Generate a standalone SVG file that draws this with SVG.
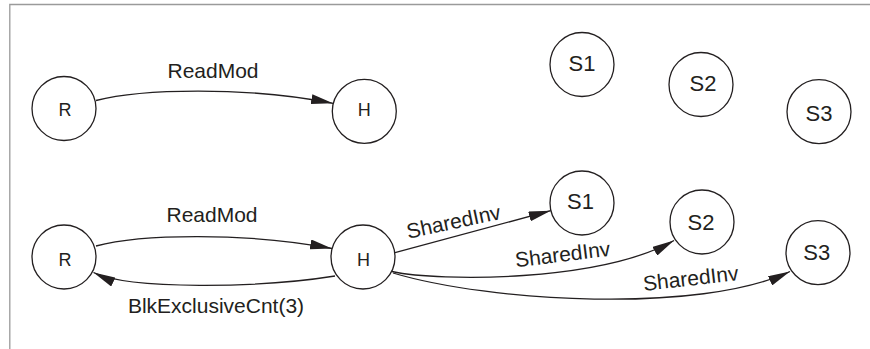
<svg xmlns="http://www.w3.org/2000/svg" width="870" height="349" viewBox="0 0 870 349">
  <defs>
    <style>
      .frame { fill: none; stroke: #9a9a9a; stroke-width: 1.3; }
      .node circle { fill: #ffffff; stroke: #231f20; stroke-width: 1.3; }
      .node text { font-family: "Liberation Sans", Arial, sans-serif; fill: #231f20; text-anchor: middle; }
      .node .small { font-size: 18px; }
      .node .big { font-size: 22px; }
      .edge { fill: none; stroke: #231f20; stroke-width: 1.3; marker-end: url(#arrow); }
      .elabel { font-family: "Liberation Sans", Arial, sans-serif; font-size: 21px; fill: #231f20; text-anchor: middle; }
    </style>
    <marker id="arrow" markerUnits="userSpaceOnUse" markerWidth="22" markerHeight="10" refX="22" refY="5" orient="auto">
      <path d="M0,0 L22,5 L0,10 Z" fill="#231f20"/>
    </marker>
  </defs>

  <rect width="870" height="349" fill="#ffffff"/>
  <!-- open frame: top and left rules -->
  <path class="frame" d="M870,4.5 H9.8 V349"/>

  <!-- connectors and their labels -->
  <g id="connectors">
    <path class="edge" d="M96,100.5 C140,89 245,86 333,103.3"/>
    <text class="elabel" x="213" y="78">ReadMod</text>

    <path class="edge" d="M96,246 C140,234 245,232 332,248.5"/>
    <text class="elabel" x="212" y="222">ReadMod</text>

    <path class="edge" d="M335,276 C260,288 130,290 93.5,272.5"/>
    <text class="elabel" x="216" y="313">BlkExclusiveCnt(3)</text>

    <path class="edge" d="M395,252.7 L550.7,210.7"/>
    <text class="elabel" transform="translate(455,228.7) rotate(-12)">SharedInv</text>

    <path class="edge" d="M392,271.5 C440,282 600,282 674,240.5"/>
    <text class="elabel" transform="translate(563.5,261.5) rotate(-7)">SharedInv</text>

    <path class="edge" d="M393,273 C490,302 700,314 790,271.5"/>
    <text class="elabel" transform="translate(691.5,285.5) rotate(-6.5)">SharedInv</text>
  </g>

  <!-- upper row -->
  <g id="R-top" class="node">
    <circle cx="64" cy="108.5" r="32"/>
    <text class="small" x="65" y="116">R</text>
  </g>
  <g id="H-top" class="node">
    <circle cx="364.3" cy="111.3" r="32"/>
    <text class="small" x="364.3" y="115.7">H</text>
  </g>
  <g id="S1-top" class="node">
    <circle cx="582" cy="64.5" r="32"/>
    <text class="big" x="582" y="71.4">S1</text>
  </g>
  <g id="S2-top" class="node">
    <circle cx="701" cy="84.5" r="32"/>
    <text class="big" x="703" y="91.2">S2</text>
  </g>
  <g id="S3-top" class="node">
    <circle cx="819" cy="111.7" r="32"/>
    <text class="big" x="819" y="121.2">S3</text>
  </g>

  <!-- lower row -->
  <g id="R-bottom" class="node">
    <circle cx="64" cy="257" r="32"/>
    <text class="small" x="65" y="266">R</text>
  </g>
  <g id="H-bottom" class="node">
    <circle cx="363" cy="257" r="32"/>
    <text class="small" x="363.5" y="266">H</text>
  </g>
  <g id="S1-bottom" class="node">
    <circle cx="582" cy="203" r="32"/>
    <text class="big" x="580.5" y="209">S1</text>
  </g>
  <g id="S2-bottom" class="node">
    <circle cx="702" cy="222" r="32"/>
    <text class="big" x="701" y="229.5">S2</text>
  </g>
  <g id="S3-bottom" class="node">
    <circle cx="818" cy="252.7" r="32"/>
    <text class="big" x="816.7" y="259.5">S3</text>
  </g>
</svg>
